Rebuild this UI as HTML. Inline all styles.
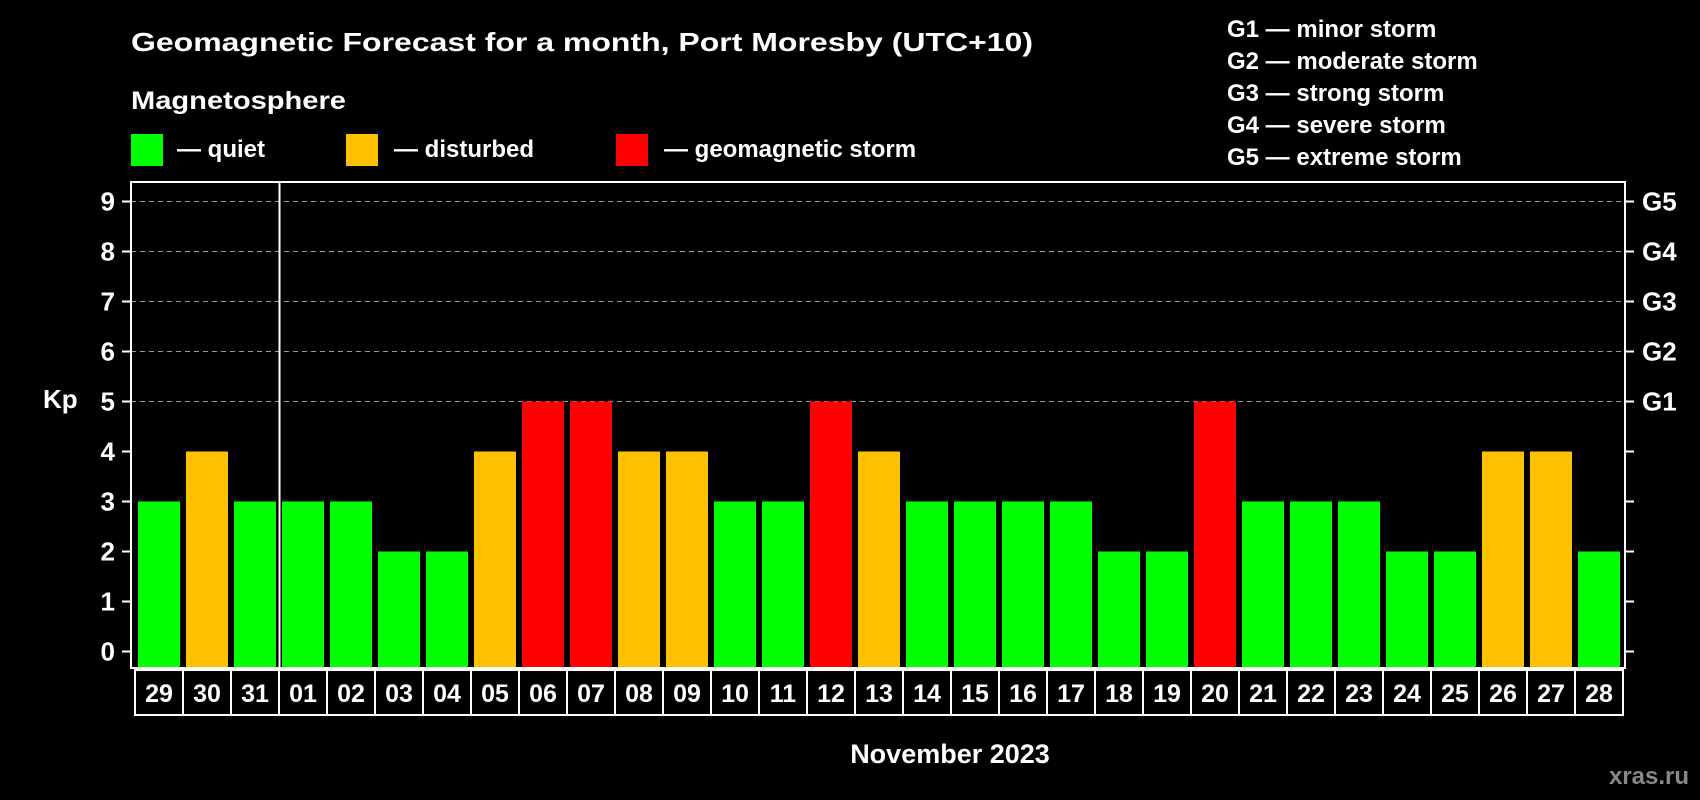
<!DOCTYPE html>
<html><head><meta charset="utf-8"><style>
html,body{margin:0;padding:0;background:#000;}
svg{display:block;font-family:"Liberation Sans",Arial,sans-serif;font-weight:bold;}
</style></head><body>
<svg id="chart" width="1700" height="800" viewBox="0 0 1700 800" xmlns="http://www.w3.org/2000/svg">
<rect x="0" y="0" width="1700" height="800" fill="#000"/>
<text x="131" y="51" fill="#fff" font-size="26" textLength="902" lengthAdjust="spacingAndGlyphs">Geomagnetic Forecast for a month, Port Moresby (UTC+10)</text>
<text x="131" y="109" fill="#fff" font-size="25" textLength="215" lengthAdjust="spacingAndGlyphs">Magnetosphere</text>
<g>
<rect x="131" y="134" width="32" height="32" fill="#00ff00"/>
<text x="177" y="157" fill="#fff" font-size="24">— quiet</text></g>
<g>
<rect x="346" y="134" width="32" height="32" fill="#ffc000"/>
<text x="394" y="157" fill="#fff" font-size="24">— disturbed</text></g>
<g>
<rect x="616" y="134" width="32" height="32" fill="#ff0000"/>
<text x="664" y="157" fill="#fff" font-size="24">— geomagnetic storm</text></g>
<g font-size="24" fill="#fff">
<text x="1227" y="37">G1 — minor storm</text>
<text x="1227" y="69">G2 — moderate storm</text>
<text x="1227" y="101">G3 — strong storm</text>
<text x="1227" y="133">G4 — severe storm</text>
<text x="1227" y="165">G5 — extreme storm</text>
</g>
<g id="plot"></g>
<text x="43" y="408" fill="#fff" font-size="26">Kp</text>
<text x="950" y="763" fill="#fff" font-size="27" text-anchor="middle">November 2023</text>
<text x="1689" y="784" fill="#888" font-size="24" text-anchor="end">xras.ru</text>
</svg>
<script>
const days = ["29","30","31","01","02","03","04","05","06","07","08","09","10","11","12","13","14","15","16","17","18","19","20","21","22","23","24","25","26","27","28"];
const kpValues = [3,4,3,3,3,2,2,4,5,5,4,4,3,3,5,4,3,3,3,3,2,2,5,3,3,3,2,2,4,4,2];
const yTicks = [0,1,2,3,4,5,6,7,8,9];
const gLabels = ["","","","","","G1","G2","G3","G4","G5"];

const NS = "http://www.w3.org/2000/svg";
const plot = document.getElementById("plot");
const L = 131, R = 1625, T = 182, B = 668;
const slot0 = 135, step = 48;
function y(v){ return 651.5 - v * 50; }
function x(i){ return slot0 + i * step; }
function mk(tag, attrs){ const e = document.createElementNS(NS, tag); for (const k in attrs) e.setAttribute(k, attrs[k]); plot.appendChild(e); return e; }
function color(v){ return v >= 5 ? "#ff0000" : (v >= 4 ? "#ffc000" : "#00ff00"); }

yTicks.forEach((t, i) => {
  if (gLabels[i]) {
    const g = mk("line", {x1: L, x2: R, y1: y(t), y2: y(t), stroke: "#999", "stroke-width": 1, "stroke-dasharray": "5,4"});
    
    
  }
  const tl = mk("line", {x1: L - 9, x2: L, y1: y(t), y2: y(t), stroke: "#fff", "stroke-width": 2});
  
  
  const tr = mk("line", {x1: R, x2: R + 9, y1: y(t), y2: y(t), stroke: "#fff", "stroke-width": 2});
  
  
  const lb = mk("text", {x: 115, y: y(t) + 9, fill: "#fff", "font-size": 26, "text-anchor": "end"});
  lb.textContent = t;
  
  
  if (gLabels[i]) {
    const gl = mk("text", {x: 1642, y: y(t) + 9, fill: "#fff", "font-size": 26});
    gl.textContent = gLabels[i];
    
    
  }
});

kpValues.forEach((v, i) => {
  const b = mk("rect", {x: x(i) + 3, y: y(v), width: 42, height: y(0) + 15.5 - y(v), fill: color(v)});
  
  
});

const frame = mk("rect", {x: L, y: T, width: R - L, height: B - T, fill: "none", stroke: "#fff", "stroke-width": 2});


const sep = mk("line", {x1: x(3) + 0.5, x2: x(3) + 0.5, y1: T, y2: B, stroke: "#fff", "stroke-width": 2});



days.forEach((d, i) => {
  const bx = mk("rect", {x: x(i), y: 670, width: step, height: 45, fill: "none", stroke: "#fff", "stroke-width": 2});
  
  
  const tx = mk("text", {x: x(i) + step / 2, y: 702, fill: "#fff", "font-size": 25, "text-anchor": "middle"});
  tx.textContent = d;
  
  
});
</script>
</body></html>
